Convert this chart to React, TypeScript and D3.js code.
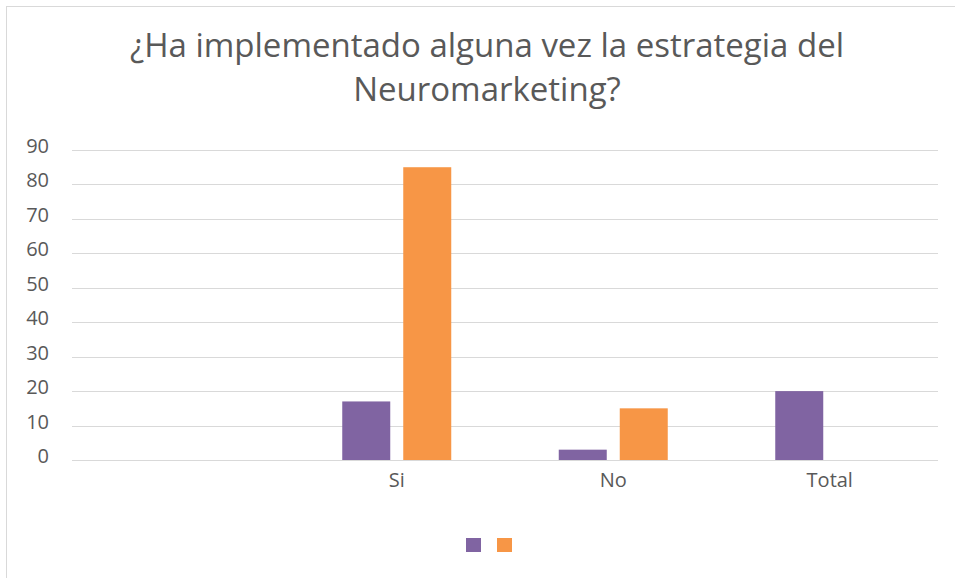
import React, { useEffect, useRef } from "react";
import * as d3 from "d3";

const categories = ["", "Si", "No", "Total"];
const seriesA = [null, 17, 3, 20];
const seriesB = [null, 85, 15, null];
const yTicks = [0, 10, 20, 30, 40, 50, 60, 70, 80, 90];
const titleLines = ["¿Ha implementado alguna vez la estrategia del", "Neuromarketing?"];
const colors = ["#8064a2", "#f79646"];

export default function App() {
  const ref = useRef<SVGSVGElement>(null);

  useEffect(() => {
    const width = 955,
      height = 578;
    const left = 72,
      right = 938,
      top = 150,
      bottom = 460;
    const svg = d3.select(ref.current);
    svg.selectAll("*").remove();

    svg
      .append("rect")
      .attr("x", 6.5)
      .attr("y", 6.5)
      .attr("width", width + 10)
      .attr("height", height + 10)
      .attr("fill", "white")
      .attr("stroke", "#d9d9d9");

    const font = "'Open Sans', sans-serif";

    svg
      .append("g")
      .selectAll("text")
      .data(titleLines)
      .join("text")
      .attr("x", 487)
      .attr("y", (d, i) => 57 + i * 44)
      .attr("text-anchor", "middle")
      .attr("font-family", font)
      .attr("font-size", 33)
      .attr("fill", "#595959")
      .text((d) => d);

    const x = d3.scaleBand().domain(categories.map((c, i) => String(i))).range([left, right]);
    const y = d3.scaleLinear().domain([0, 90]).range([bottom, top]);
    const barW = 48,
      gap = 13;
    const groupW = barW * 2 + gap;

    svg
      .append("g")
      .selectAll("line")
      .data(yTicks)
      .join("line")
      .attr("x1", left)
      .attr("x2", right)
      .attr("y1", (d) => Math.round(y(d)) + 0.5)
      .attr("y2", (d) => Math.round(y(d)) + 0.5)
      .attr("stroke", "#d9d9d9")
      .attr("stroke-width", 1.2);

    svg
      .append("g")
      .selectAll("text")
      .data(yTicks)
      .join("text")
      .attr("x", 49)
      .attr("y", (d) => y(d) + 3)
      .attr("text-anchor", "end")
      .attr("font-family", font)
      .attr("font-size", 20)
      .attr("fill", "#595959")
      .text((d) => d);

    [seriesA, seriesB].forEach((s, si) => {
      svg
        .append("g")
        .selectAll("rect")
        .data(s.map((v, i) => ({ v, i })).filter((d) => d.v !== null))
        .join("rect")
        .attr("x", (d) => x(String(d.i))! + (x.bandwidth() - groupW) / 2 + si * (barW + gap))
        .attr("y", (d) => y(d.v as number))
        .attr("width", barW)
        .attr("height", (d) => y(0) - y(d.v as number))
        .attr("fill", colors[si]);
    });

    svg
      .append("g")
      .selectAll("text")
      .data(categories)
      .join("text")
      .attr("x", (d, i) => x(String(i))! + x.bandwidth() / 2)
      .attr("y", 487)
      .attr("text-anchor", "middle")
      .attr("font-family", font)
      .attr("font-size", 20)
      .attr("fill", "#595959")
      .text((d) => d);

    svg
      .append("g")
      .selectAll("rect")
      .data(colors)
      .join("rect")
      .attr("x", (d, i) => 466 + i * 31)
      .attr("y", 538)
      .attr("width", 15)
      .attr("height", 14)
      .attr("fill", (d) => d);
  }, []);

  return (
    <svg
      ref={ref}
      width={955}
      height={578}
      style={{ position: "absolute", left: 0, top: 0, display: "block" }}
    />
  );
}
